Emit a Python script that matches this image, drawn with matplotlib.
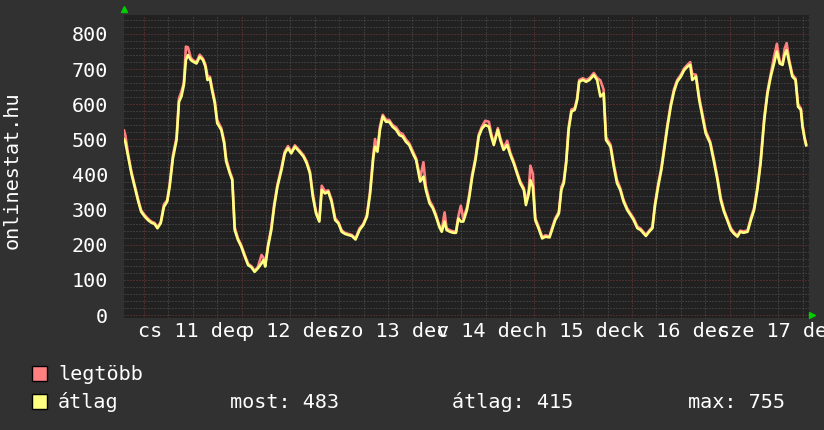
import matplotlib.pyplot as plt
from matplotlib.patches import Rectangle
from matplotlib.lines import Line2D

# hours since 11 dec 00:00
hours = [-4.9, -4.6, -3.9, -3.1, -2.3, -1.5, -0.7, 0.2, 1.0, 1.8, 2.6, 3.3, 4.1, 4.9, 5.7, 6.3, 7.1, 8.0, 8.6, 9.2,
         9.8, 10.3, 10.8, 11.5, 12.1, 12.9, 13.7, 14.5, 15.1, 15.6, 16.2, 16.7, 17.4, 18.0, 19.0, 19.7, 20.2, 21.1,
         21.7, 22.3, 23.1, 23.9, 24.8, 25.6, 26.4, 27.2, 28.0, 28.9, 29.4, 29.8, 30.5, 31.3, 32.0, 32.8, 33.8, 34.6,
         35.4, 36.2, 37.1, 38.2, 39.2, 40.0, 40.8, 41.5, 42.3, 43.1, 43.7, 44.5, 45.3, 46.1, 47.0, 47.8, 48.6, 49.4,
         50.2, 51.1, 52.0, 53.0, 53.9, 54.8, 55.6, 56.4, 56.8, 57.4, 58.0, 58.7, 59.5, 60.3, 61.1, 62.0, 62.8, 63.6,
         64.4, 65.2, 66.1, 66.9, 67.9, 68.7, 69.3, 70.2, 71.0, 71.8, 72.6, 73.2, 73.9, 74.4, 75.2, 76.1, 76.7, 77.3,
         77.9, 78.5, 79.4, 80.0, 80.7, 81.5, 82.3, 83.1, 83.9, 84.8, 85.4, 86.0, 87.0, 87.6, 88.4, 89.3, 90.1, 90.9,
         91.7, 92.5, 93.4, 93.9, 94.6, 95.0, 95.6, 96.2, 97.0, 97.9, 98.7, 99.7, 100.3, 101.1, 102.0, 102.6, 103.2,
         103.8, 104.4, 105.1, 105.9, 106.5, 107.0, 107.9, 108.7, 109.5, 110.6, 111.4, 112.2, 113.0, 113.6, 114.7,
         115.5, 116.3, 117.1, 117.9, 118.8, 119.6, 120.4, 121.3, 122.1, 123.4, 124.2, 125.0, 125.6, 126.4, 127.2,
         128.0, 128.7, 129.5, 130.3, 131.1, 132.0, 132.8, 133.6, 134.3, 134.8, 135.7, 136.5, 137.3, 138.1, 139.2,
         140.2, 141.0, 141.8, 142.6, 143.4, 144.3, 145.1, 145.9, 146.6, 147.4, 148.4, 149.2, 150.0, 150.8, 151.6,
         152.5, 153.3, 154.1, 154.9, 155.6, 156.3, 157.0, 157.5, 158.0, 158.6, 159.4, 160.2, 160.8, 161.5, 161.9,
         162.4, 162.8]

atlag = [500, 493, 451, 403, 365, 327, 294, 280, 270, 263, 259, 247, 261, 308, 323, 365, 446, 498, 607, 622,
         655, 726, 740, 726, 721, 716, 735, 726, 707, 669, 674, 641, 603, 546, 527, 489, 437, 403,
         384, 242, 214, 195, 166, 142, 136, 123, 133, 147, 157, 138, 195, 242, 308, 365, 413, 460,
         475, 460, 479, 465, 451, 432, 403, 337, 289, 266, 356, 346, 351, 323, 270, 261, 237, 231,
         228, 225, 215, 242, 256, 280, 346, 451, 479, 465, 527, 565, 550, 550, 536, 527, 512, 508,
         493, 484, 460, 441, 380, 394, 356, 318, 304, 280, 251, 237, 266, 242, 237, 234, 234, 275,
         266, 266, 299, 337, 394, 441, 508, 531, 541, 536, 508, 484, 527, 498, 470, 484, 455, 432,
         403, 375, 356, 313, 346, 384, 365, 270, 247, 218, 223, 221, 242, 270, 289, 356, 375,
         432, 527, 579, 584, 612, 664, 669, 664, 669, 683, 669, 622, 631, 498, 479,
         422, 375, 356, 323, 299, 285, 270, 247, 242, 225, 237, 247, 308, 365, 413,
         479, 536, 593, 636, 664, 679, 697, 707, 712, 669, 679, 612, 565, 517, 489,
         432, 384, 327, 294, 270, 242, 231, 223, 237, 234, 237, 270, 299, 356, 432,
         555, 631, 679, 716, 750, 716, 712, 740, 754, 721, 679, 669, 593, 584, 536,
         503, 483]

legtobb = [525, 512, 458, 408, 370, 332, 298, 284, 274, 266, 262, 250, 264, 315, 327, 372, 454, 506, 617, 636,
           661, 764, 762, 732, 725, 720, 741, 730, 713, 681, 678, 648, 610, 555, 532, 496, 446, 408,
           389, 250, 218, 199, 170, 146, 139, 126, 137, 171, 163, 142, 200, 250, 315, 371, 420, 465,
           481, 464, 483, 469, 455, 437, 408, 346, 294, 270, 368, 352, 355, 329, 276, 264, 241, 234,
           231, 228, 218, 247, 259, 284, 356, 460, 501, 470, 536, 570, 556, 555, 541, 534, 520, 515,
           500, 489, 466, 446, 390, 435, 366, 326, 309, 285, 255, 242, 292, 247, 241, 238, 238, 282,
           311, 274, 306, 347, 401, 448, 514, 537, 553, 550, 516, 489, 532, 504, 475, 496, 461, 437,
           408, 381, 361, 319, 356, 425, 402, 276, 252, 222, 227, 224, 247, 275, 294, 364, 381,
           440, 535, 585, 589, 618, 669, 674, 669, 674, 689, 675, 668, 642, 506, 485,
           430, 384, 361, 328, 304, 289, 275, 252, 246, 228, 240, 251, 314, 373, 420,
           486, 543, 600, 643, 669, 684, 702, 712, 720, 686, 684, 620, 573, 525, 494,
           440, 391, 334, 299, 274, 247, 235, 226, 240, 238, 241, 276, 305, 363, 440,
           563, 638, 686, 735, 772, 722, 717, 758, 774, 728, 685, 673, 601, 588, 543,
           507, 487]

day_ticks = [12, 36, 60, 84, 108, 132, 156]
day_labels = ['cs 11 dec', 'p 12 dec', 'szo 13 dec', 'v 14 dec', 'h 15 dec', 'k 16 dec', 'sze 17 dec']
y_ticks = [0, 100, 200, 300, 400, 500, 600, 700, 800]
stats = ['most: 483', 'átlag: 415', 'max: 755']

font = 'DejaVu Sans Mono'
fs = 14.5
bg = '#313131'
red = '#ff8080'
yellow = '#ffff80'

fig = plt.figure(figsize=(8.24, 4.30), dpi=100, facecolor=bg)
W, H = 824, 430
ax = fig.add_axes([124 / W, (H - 318) / H, (809 - 124) / W, (318 - 15) / H])
ax.set_facecolor('#212121')

# grid
for v in range(0, 860, 20):
    if v % 100:
        ax.axhline(v, color='#585858', lw=0.72, ls=(0, (1, 2)), zorder=1)
for h in range(6, 164, 6):
    if h % 24:
        ax.axvline(h, color='#585858', lw=0.72, ls=(0, (1, 2)), zorder=1)
for v in y_ticks:
    ax.axhline(v, color='#7a3a3a', lw=0.72, ls=(0, (1, 2)), zorder=1.5)
for h in range(0, 164, 24):
    ax.axvline(h, color='#7a3a3a', lw=0.72, ls=(0, (1, 2)), zorder=1.5)

ax.plot(hours, legtobb, color=red, lw=1.9, zorder=3)
ax.plot(hours, atlag, color=yellow, lw=1.9, zorder=4)

ax.set_xlim(-4.92, 163.5)
ax.set_ylim(-8.5, 854)
for s in ax.spines.values():
    s.set_visible(False)

ax.set_yticks(y_ticks)
ax.set_yticklabels([str(v) for v in y_ticks])
ax.set_xticks(day_ticks)
ax.set_xticklabels(day_labels)
ax.tick_params(axis='y', length=0, pad=11.5, labelcolor='white', labelsize=fs)
ax.tick_params(axis='x', length=0, pad=3, labelcolor='white', labelsize=fs)
for lab in ax.get_xticklabels() + ax.get_yticklabels():
    lab.set_fontfamily(font)
    lab.set_clip_on(False)

fig.text(12 / W, 1 - 170 / H, 'onlinestat.hu', rotation=90, ha='center', va='center',
         color='white', fontsize=fs, family=font)

# arrows
fig.add_artist(Line2D([124 / W], [1 - 9 / H], marker='^', color='#00cc00', markersize=5,
                      transform=fig.transFigure))
fig.add_artist(Line2D([812 / W], [1 - 315 / H], marker='>', color='#00cc00', markersize=5,
                      transform=fig.transFigure))

# legend
fig.add_artist(Rectangle((32 / W, 1 - 381 / H), 15 / W, 15 / H, transform=fig.transFigure,
                         facecolor=red, edgecolor='black', lw=1))
fig.add_artist(Rectangle((32 / W, 1 - 409 / H), 15 / W, 15 / H, transform=fig.transFigure,
                         facecolor=yellow, edgecolor='black', lw=1))
fig.text(58 / W, 1 - 374 / H, 'legtöbb', color='white', fontsize=fs, family=font, va='center')
fig.text(58 / W, 1 - 402 / H, 'átlag', color='white', fontsize=fs, family=font, va='center')
for xpos, s in zip([230, 452, 688], stats):
    fig.text(xpos / W, 1 - 402 / H, s, color='white', fontsize=fs, family=font, va='center')

fig.savefig('out.png', dpi=100, facecolor=bg)
